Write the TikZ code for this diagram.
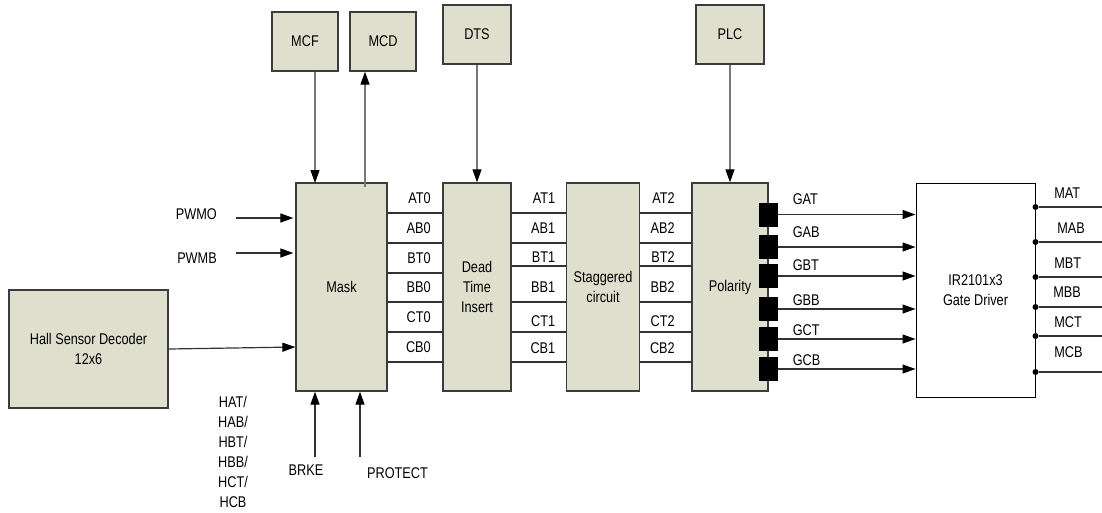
\documentclass[tikz,border=0pt]{standalone}
\usepackage{fontspec}
\setmainfont{Liberation Sans}[FakeStretch=0.82]
\usepackage{tikz}
\usetikzlibrary{positioning,arrows.meta}

\definecolor{blockfill}{RGB}{222,224,205}
\definecolor{blockline}{RGB}{60,60,60}
\definecolor{arrline}{RGB}{120,120,120}
\definecolor{busline}{RGB}{50,50,50}

\begin{document}
\begin{tikzpicture}[
  x=1pt, y=-1pt,
  font=\fontsize{15.5}{20}\selectfont,
  block/.style={rectangle, draw=blockline, line width=1.3pt, fill=blockfill,
                align=center, inner sep=2pt},
  arr/.style={-{Triangle[length=13pt,width=9pt,color=black]}, draw=arrline, line width=1.2pt},
  garr/.style={arr, draw=busline},
  bus/.style={draw=busline, line width=1.2pt},
  sig/.style={inner sep=1pt},
  lbl/.style={inner sep=0pt, anchor=base east},
  olbl/.style={inner sep=0pt, anchor=base west},
  pad/.style={fill=black, minimum width=19pt, minimum height=24pt, inner sep=0pt},
  dot/.style={circle, fill=black, inner sep=0pt, minimum size=6pt},
]
\useasboundingbox (0,0) rectangle (1102,512);

% main chain
\node[block, minimum width=159pt, minimum height=118pt] (hall) at (88.5,349) {Hall Sensor Decoder\\12x6};
\node[block, minimum width=91pt, minimum height=208pt] (mask) at (341.5,287) {Mask};
\node[block, minimum width=68pt, minimum height=208pt] (dead) at (477,287) {Dead\\Time\\Insert};
\node[block, minimum width=73pt, minimum height=208pt] (stag) at (603,287) {Staggered\\circuit};
\node[block, minimum width=76pt, minimum height=208pt] (pol) at (730,287) {Polarity};
\node[draw=black, line width=1pt, minimum width=119pt, minimum height=214pt, align=center] (drv) at (975.5,290) {IR2101x3\\Gate Driver};

% control boxes on top
\node[block, minimum width=66pt, minimum height=59pt] (mcf) at (305,41.5) {MCF};
\node[block, minimum width=66pt, minimum height=59pt] (mcd) at (383,41.5) {MCD};
\node[block, minimum width=68pt, minimum height=59pt] (dts) at (477,34.5) {DTS};
\node[block, minimum width=68pt, minimum height=59pt] (plc) at (730,34.5) {PLC};

\coordinate (mcf-in) at (315,183);
\coordinate (mcd-out) at (365,187);
\draw[arr] (mcf-in |- mcf.south) -- (mcf-in);
\draw[arr] (mcd-out) -- (mcd-out |- mcd.south);
\draw[arr] (dts) -- (dead);
\draw[arr] (plc) -- (pol);

% inputs to mask
\coordinate (pwmo-in) at (236,218);
\coordinate (pwmb-in) at (236,253);
\node[sig, left=18pt of pwmo-in, yshift=3.5pt] (pwmo) {PWMO};
\node[sig, left=18pt of pwmb-in, yshift=-5.5pt] (pwmb) {PWMB};
\draw[garr, shorten >=2pt] (pwmo-in) -- (mask.west |- pwmo-in);
\draw[garr, shorten >=2pt] (pwmb-in) -- (mask.west |- pwmb-in);
\draw[garr] (hall.east) -- ([yshift=2pt]mask.west |- hall.east);
\node[sig, align=center] (hall-sig) at (233,452) {HAT/\\HAB/\\HBT/\\HBB/\\HCT/\\HCB};

\coordinate (brke-in) at (315,457);
\coordinate (prot-in) at (360,457);
\node[sig] (brke) at (306,470) {BRKE};
\node[sig] (prot) at (397.5,473) {PROTECT};
\draw[garr] (brke-in) -- (brke-in |- mask.south);
\draw[garr] (prot-in) -- (prot-in |- mask.south);

% mask -> dead time
\draw[bus] (mask.east |- 0,213) -- (dead.west |- 0,213) node[lbl, xshift=-11pt, yshift=10pt] {AT0};
\draw[bus] (mask.east |- 0,243) -- (dead.west |- 0,243) node[lbl, xshift=-11pt, yshift=10pt] {AB0};
\draw[bus] (mask.east |- 0,273) -- (dead.west |- 0,273) node[lbl, xshift=-11pt, yshift=10pt] {BT0};
\draw[bus] (mask.east |- 0,302) -- (dead.west |- 0,302) node[lbl, xshift=-11pt, yshift=10pt] {BB0};
\draw[bus] (mask.east |- 0,332) -- (dead.west |- 0,332) node[lbl, xshift=-11pt, yshift=10pt] {CT0};
\draw[bus] (mask.east |- 0,362) -- (dead.west |- 0,362) node[lbl, xshift=-11pt, yshift=10pt] {CB0};

% dead time -> staggered
\draw[bus] (dead.east |- 0,213) -- (stag.west |- 0,213) node[lbl, xshift=-10pt, yshift=10pt] {AT1};
\draw[bus] (dead.east |- 0,243) -- (stag.west |- 0,243) node[lbl, xshift=-10pt, yshift=10pt] {AB1};
\draw[bus] (dead.east |- 0,266) -- (stag.west |- 0,266) node[lbl, xshift=-10pt, yshift=4pt] {BT1};
\draw[bus] (dead.east |- 0,302) -- (stag.west |- 0,302) node[lbl, xshift=-10pt, yshift=10pt] {BB1};
\draw[bus] (dead.east |- 0,332) -- (stag.west |- 0,332) node[lbl, xshift=-10pt, yshift=6pt] {CT1};
\draw[bus] (dead.east |- 0,362) -- (stag.west |- 0,362) node[lbl, xshift=-10pt, yshift=9pt] {CB1};

% staggered -> polarity
\draw[bus] (stag.east |- 0,213) -- (pol.west |- 0,213) node[lbl, xshift=-16pt, yshift=10pt] {AT2};
\draw[bus] (stag.east |- 0,243) -- (pol.west |- 0,243) node[lbl, xshift=-16pt, yshift=10pt] {AB2};
\draw[bus] (stag.east |- 0,266) -- (pol.west |- 0,266) node[lbl, xshift=-16pt, yshift=4pt] {BT2};
\draw[bus] (stag.east |- 0,302) -- (pol.west |- 0,302) node[lbl, xshift=-16pt, yshift=10pt] {BB2};
\draw[bus] (stag.east |- 0,332) -- (pol.west |- 0,332) node[lbl, xshift=-16pt, yshift=6pt] {CT2};
\draw[bus] (stag.east |- 0,362) -- (pol.west |- 0,362) node[lbl, xshift=-16pt, yshift=9pt] {CB2};

% polarity outputs -> gate driver
\node[pad] (pgat) at (768.5,214.5) {};
\node[pad] (pgab) at (768.5,247) {};
\node[pad] (pgbt) at (768.5,276) {};
\node[pad] (pgbb) at (768.5,309) {};
\node[pad] (pgct) at (768.5,339) {};
\node[pad] (pgcb) at (768.5,369) {};
\draw[garr] (pgat.east) -- (pgat.east -| drv.west) node[olbl, pos=0, xshift=14pt, yshift=10pt] {GAT};
\draw[garr] (pgab.east) -- (pgab.east -| drv.west) node[olbl, pos=0, xshift=14pt, yshift=10pt] {GAB};
\draw[garr] (pgbt.east) -- (pgbt.east -| drv.west) node[olbl, pos=0, xshift=14pt, yshift=6pt] {GBT};
\draw[garr] (pgbb.east) -- (pgbb.east -| drv.west) node[olbl, pos=0, xshift=14pt, yshift=4pt] {GBB};
\draw[garr] (pgct.east) -- (pgct.east -| drv.west) node[olbl, pos=0, xshift=14pt, yshift=4pt] {GCT};
\draw[garr] (pgcb.east) -- (pgcb.east -| drv.west) node[olbl, pos=0, xshift=14pt, yshift=4pt] {GCB};

% gate driver outputs
\node[dot] (dmat) at (drv.east |- 0,207) {};
\node[dot] (dmab) at (drv.east |- 0,242) {};
\node[dot] (dmbt) at (drv.east |- 0,277) {};
\node[dot] (dmbb) at (drv.east |- 0,307) {};
\node[dot] (dmct) at (drv.east |- 0,336) {};
\node[dot] (dmcb) at (drv.east |- 0,372) {};
\coordinate (mat) at (1102,207);
\coordinate (mab) at (1102,242);
\coordinate (mbt) at (1102,277);
\coordinate (mbb) at (1102,307);
\coordinate (mct) at (1102,336);
\coordinate (mcb) at (1102,372);
\draw[bus] (dmat) -- (mat) node[olbl, pos=0, xshift=15pt, yshift=9pt] {MAT};
\draw[bus] (dmab) -- (mab) node[olbl, pos=0, xshift=18pt, yshift=8.5pt] {MAB};
\draw[bus] (dmbt) -- (mbt) node[olbl, pos=0, xshift=15pt, yshift=8.5pt] {MBT};
\draw[bus] (dmbb) -- (mbb) node[olbl, pos=0, xshift=14pt, yshift=9.5pt] {MBB};
\draw[bus] (dmct) -- (mct) node[olbl, pos=0, xshift=15pt, yshift=8.5pt] {MCT};
\draw[bus] (dmcb) -- (mcb) node[olbl, pos=0, xshift=15pt, yshift=14.5pt] {MCB};
\end{tikzpicture}
\end{document}
